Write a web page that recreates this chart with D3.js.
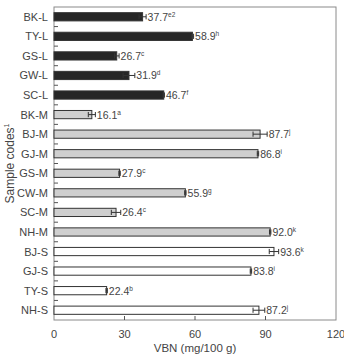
<!DOCTYPE html>
<html>
<head>
<meta charset="utf-8">
<script src="https://cdn.jsdelivr.net/npm/d3@7"></script>
<style>
  body { margin: 0; background: #fff; }
  svg { display: block; font-family: "Liberation Sans", Arial, sans-serif; }
</style>
</head>
<body>
<div id="chart"></div>
<script>
const samples = ["BK-L", "TY-L", "GS-L", "GW-L", "SC-L", "BK-M", "BJ-M", "GJ-M", "GS-M", "CW-M", "SC-M", "NH-M", "BJ-S", "GJ-S", "TY-S", "NH-S"];
const vbn = [37.7, 58.9, 26.7, 31.9, 46.7, 16.1, 87.7, 86.8, 27.9, 55.9, 26.4, 92.0, 93.6, 83.8, 22.4, 87.2];
const errs = [1.5, 0.5, 1.0, 2.5, 0.3, 1.5, 3.0, 0.3, 0.3, 0.3, 2.0, 0.3, 2.0, 0.3, 0.3, 2.5];
const letters = ["e2", "h", "c", "d", "f", "a", "j", "i", "c", "g", "c", "k", "k", "i", "b", "j"];
const xTicks = [0, 30, 60, 90, 120];

const width = 344, height = 359;
const margin = { top: 7, right: 8, bottom: 39, left: 54 };

const svg = d3.select("#chart").append("svg")
    .attr("width", width)
    .attr("height", height);

const x = d3.scaleLinear().domain([0, 120]).range([margin.left, width - margin.right]);
const y = d3.scaleBand().domain(samples).range([margin.top, height - margin.bottom]).paddingInner(0.58).paddingOuter(0.29);

function fillFor(s) {
    if (s.endsWith("-L")) return "#262626";
    if (s.endsWith("-M")) return "#cfcfcf";
    return "#ffffff";
}

// frame
svg.append("rect")
    .attr("x", x(0)).attr("y", margin.top)
    .attr("width", x(120) - x(0)).attr("height", height - margin.bottom - margin.top)
    .attr("fill", "none").attr("stroke", "#8a8a8a").attr("stroke-width", 1);

const data = samples.map((s, i) => ({ s, v: vbn[i], e: errs[i], l: letters[i] }));

// bars
svg.selectAll("rect.bar").data(data).enter().append("rect")
    .attr("class", "bar")
    .attr("x", x(0))
    .attr("y", d => y(d.s))
    .attr("width", d => x(d.v) - x(0))
    .attr("height", y.bandwidth())
    .attr("fill", d => fillFor(d.s))
    .attr("stroke", "#333")
    .attr("stroke-width", 1);

// error bars
const eb = svg.selectAll("g.err").data(data).enter().append("g").attr("class", "err")
    .attr("stroke", "#333").attr("stroke-width", 1);
eb.append("line")
    .attr("x1", d => x(d.v - d.e)).attr("x2", d => x(d.v + d.e))
    .attr("y1", d => y(d.s) + y.bandwidth() / 2).attr("y2", d => y(d.s) + y.bandwidth() / 2);
eb.append("line")
    .attr("x1", d => x(d.v - d.e)).attr("x2", d => x(d.v - d.e))
    .attr("y1", d => y(d.s) + 1.5).attr("y2", d => y(d.s) + y.bandwidth() - 1.5);
eb.append("line")
    .attr("x1", d => x(d.v + d.e)).attr("x2", d => x(d.v + d.e))
    .attr("y1", d => y(d.s) + 1.5).attr("y2", d => y(d.s) + y.bandwidth() - 1.5);

// value labels
const lab = svg.selectAll("text.val").data(data).enter().append("text")
    .attr("class", "val")
    .attr("x", d => x(d.v + d.e) + 1.5)
    .attr("y", d => y(d.s) + y.bandwidth() / 2 + 4)
    .attr("font-size", 10.5)
    .attr("fill", "#444");
lab.append("tspan").text(d => d.v.toFixed(1));
lab.append("tspan").attr("dy", -4).attr("font-size", 6.5).text(d => d.l);

// y axis labels and between-category ticks
svg.selectAll("text.cat").data(samples).enter().append("text")
    .attr("class", "cat")
    .attr("x", x(0) - 6)
    .attr("y", d => y(d) + y.bandwidth() / 2 + 4)
    .attr("text-anchor", "end")
    .attr("font-size", 11)
    .attr("fill", "#444")
    .text(d => d);

const step = y.step();
const boundaries = samples.slice(1).map(s => y(s) - y.paddingInner() * step / 2);
svg.selectAll("line.ytick").data(boundaries).enter().append("line")
    .attr("x1", x(0)).attr("x2", x(0) + 4)
    .attr("y1", d => d).attr("y2", d => d)
    .attr("stroke", "#555");

// x ticks (inward)
const yb = height - margin.bottom;
svg.selectAll("line.xtick").data(xTicks.slice(1, -1)).enter().append("line")
    .attr("x1", d => x(d)).attr("x2", d => x(d))
    .attr("y1", yb).attr("y2", yb - 4)
    .attr("stroke", "#555");
svg.selectAll("text.xl").data(xTicks).enter().append("text")
    .attr("x", d => x(d))
    .attr("y", yb + 18)
    .attr("text-anchor", "middle")
    .attr("font-size", 11)
    .attr("fill", "#444")
    .text(d => d);

// axis titles
svg.append("text")
    .attr("x", (x(0) + x(120)) / 2)
    .attr("y", height - 7)
    .attr("text-anchor", "middle")
    .attr("font-size", 11.5)
    .attr("fill", "#444")
    .text("VBN (mg/100 g)");

const yt = svg.append("text")
    .attr("transform", `translate(14,${(margin.top + yb) / 2}) rotate(-90)`)
    .attr("text-anchor", "middle")
    .attr("font-size", 12)
    .attr("fill", "#444");
yt.append("tspan").text("Sample codes");
yt.append("tspan").attr("dy", -5).attr("font-size", 7).text("1");
</script>
</body>
</html>
